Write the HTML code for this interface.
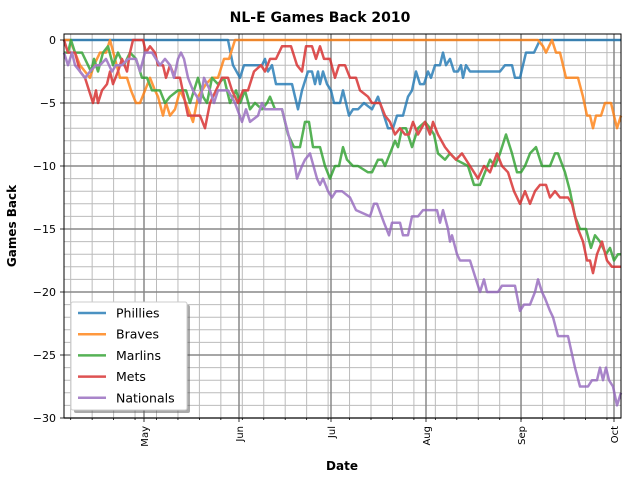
<!DOCTYPE html>
<html><head><meta charset="utf-8"><style>
body{margin:0;background:#fff;}
svg text{font-family:"DejaVu Sans","Liberation Sans",sans-serif;}
</style></head><body>
<svg id="s" width="640" height="480" xmlns="http://www.w3.org/2000/svg">
<rect width="640" height="480" fill="#fff"/>
<g id="grid"></g>
<g id="lines" fill="none" stroke-width="2.5" stroke-linejoin="round" opacity="0.8"></g>
<rect x="64" y="34" width="557" height="384" fill="none" stroke="#000" stroke-width="1"/>
<g id="ticks" font-size="10"></g>
<text x="320" y="22" font-size="14" font-weight="bold" text-anchor="middle">NL-E Games Back 2010</text>
<text x="342" y="470" font-size="12" font-weight="bold" text-anchor="middle">Date</text>
<text transform="translate(16,226) rotate(-90)" font-size="12" font-weight="bold" text-anchor="middle">Games Back</text>
<g id="legend"></g>
</svg>
<script>
const NS="http://www.w3.org/2000/svg";
function el(p,t,a,txt){const e=document.createElementNS(NS,t);for(const k in a)e.setAttribute(k,a[k]);if(txt!==undefined)e.textContent=txt;p.appendChild(e);return e;}
const Y=g=>40-g*12.6;
const grid=document.getElementById('grid'),ticks=document.getElementById('ticks');
// minor horizontal
for(let g=0;g>=-30;g--){ if(g%5) el(grid,'line',{x1:64,x2:621,y1:Y(g),y2:Y(g),stroke:'#bbb','stroke-width':1});}
// minor vertical weekly
for(let x=70.7;x<621;x+=21.45){el(grid,'line',{x1:x,x2:x,y1:34,y2:418,stroke:'#bbb','stroke-width':1});
 el(ticks,'line',{x1:x,x2:x,y1:418,y2:420,stroke:'#000','stroke-width':0.8});}
// major horizontal
for(let g=0;g>=-30;g-=5){el(grid,'line',{x1:64,x2:621,y1:Y(g),y2:Y(g),stroke:'#888','stroke-width':1.5});
 el(ticks,'line',{x1:60,x2:64,y1:Y(g),y2:Y(g),stroke:'#000','stroke-width':0.8});
 el(ticks,'text',{x:56,y:Y(g)+4,'text-anchor':'end','font-size':11},g==0?'0':'\u2212'+(-g));}
const months=[[144,'May'],[239,'Jun'],[331,'Jul'],[426,'Aug'],[521,'Sep'],[614,'Oct']];
for(const [x,m] of months){el(grid,'line',{x1:x,x2:x,y1:34,y2:418,stroke:'#888','stroke-width':1.5});
 el(ticks,'line',{x1:x,x2:x,y1:418,y2:422,stroke:'#000','stroke-width':0.8});
 el(ticks,'text',{transform:`translate(${x+4},426) rotate(-90)`,'text-anchor':'end','font-size':10},m);}
const data={
'#1f77b4':[[64,0],[228,0],[233,-2],[240,-3],[244,-2],[250,-2],[262,-2],[265,-1.5],[268,-2.5],[272,-2],[276,-3.5],[292,-3.5],[298,-5.5],[302,-4],[308,-2.5],[312,-2.5],[315,-3.5],[318,-2.5],[320,-3.5],[323,-2.5],[327,-3.5],[331,-4],[334,-5],[340,-5],[343,-4],[349,-6],[353,-5.5],[358,-5.5],[364,-5],[372,-5.5],[378,-4.5],[382,-5.5],[388,-7],[393,-7],[397,-6],[403,-6],[408,-4.5],[412,-4],[416,-2.5],[420,-3.5],[424,-3.5],[428,-2.5],[431,-3],[435,-2],[440,-2],[443,-1],[446,-2],[450,-1.5],[454,-2.5],[458,-2.5],[461,-2],[463,-3],[466,-2],[470,-2.5],[500,-2.5],[505,-2],[512,-2],[515,-3],[520,-3],[526,-1],[534,-1],[540,0],[621,0]],
'#ff7f0e':[[64,0],[70,0],[75,-1],[80,-2],[85,-2.5],[90,-3],[94,-2],[100,-1],[106,-1],[110,0],[115,-1.5],[120,-3],[127,-3],[131,-4],[136,-5],[140,-5],[145,-4],[150,-3],[155,-4],[158,-4.5],[163,-6],[166,-5],[170,-6],[175,-5.5],[180,-4],[186,-5],[193,-6.5],[198,-4.5],[202,-4],[206,-3.5],[212,-3],[218,-3],[224,-1.5],[229,-1.5],[235,0],[538,0],[543,-0.5],[546,-1],[549,-0.5],[552,0],[556,-1],[560,-1],[566,-3],[578,-3],[583,-4.5],[587,-6],[590,-6],[593,-7],[596,-6],[601,-6],[605,-5],[611,-5],[617,-7],[621,-6]],
'#2ca02c':[[64,-1],[68,-1],[71,0],[75,-1],[82,-1],[88,-2],[91,-2.5],[94,-1.5],[98,-2.5],[103,-1],[108,-0.5],[113,-2],[118,-1],[124,-2],[130,-1],[136,-1.5],[142,-3],[147,-3],[152,-4],[160,-4],[165,-5],[170,-4.5],[178,-4],[186,-4],[190,-5],[198,-3],[203,-4.5],[207,-5],[212,-3],[218,-3.5],[224,-3],[230,-5],[236,-4],[240,-5],[245,-4],[250,-5.5],[255,-5],[262,-5.5],[267,-5],[270,-4.5],[275,-5.5],[282,-5.5],[288,-7.5],[294,-8.5],[300,-8.5],[305,-6.5],[309,-6.5],[313,-8.5],[320,-8.5],[325,-10],[330,-11],[335,-10],[339,-10],[343,-8.5],[347,-9.5],[353,-10],[358,-10],[368,-10.5],[372,-10.5],[378,-9.5],[382,-9.5],[385,-10],[390,-9],[395,-8],[398,-8.5],[402,-7],[406,-7],[412,-8.5],[418,-7],[425,-6.5],[430,-7],[434,-7.5],[438,-9],[445,-9.5],[450,-9],[456,-9.5],[468,-10],[474,-11.5],[480,-11.5],[485,-10.5],[490,-9.5],[495,-10],[500,-9],[506,-7.5],[512,-9],[517,-10.5],[521,-10.5],[525,-10],[530,-9],[536,-8.5],[542,-10],[550,-10],[555,-9],[558,-9],[565,-10.5],[570,-12],[575,-14],[580,-15],[586,-15],[591,-16.5],[595,-15.5],[600,-16],[606,-17],[610,-16.5],[614,-17.5],[618,-17],[621,-17]],
'#d62728':[[64,0],[68,-1],[75,-1],[80,-2.5],[85,-3],[89,-4],[93,-5],[96,-4],[98,-5],[102,-4],[107,-3.5],[110,-2.5],[113,-3.5],[118,-2.5],[122,-1.5],[127,-2.5],[130,-1],[133,0],[143,0],[146,-1],[150,-0.5],[155,-1],[158,-2],[163,-2],[166,-3],[170,-2],[175,-3],[180,-3],[184,-4.5],[188,-6],[200,-6],[205,-7],[210,-5],[216,-4],[222,-3],[228,-3],[232,-4],[238,-5],[243,-4],[248,-4],[254,-2.5],[261,-2],[265,-2.5],[270,-1.5],[276,-1.5],[282,-0.5],[291,-0.5],[297,-2],[302,-2.5],[306,-0.5],[312,-0.5],[316,-1.5],[320,-0.5],[324,-1.5],[330,-1.5],[335,-3],[339,-2],[345,-2],[350,-3],[356,-3],[360,-4],[368,-4.5],[372,-5],[380,-5],[385,-6],[390,-6.5],[395,-7.5],[400,-7],[405,-7.5],[409,-7.5],[413,-6.5],[418,-7.5],[425,-6.5],[430,-7.5],[433,-6.5],[438,-7.5],[445,-8.5],[450,-9],[456,-9.5],[462,-9],[470,-10],[478,-11],[484,-10],[490,-10.5],[497,-9],[502,-10],[508,-10.5],[514,-12],[520,-13],[525,-12],[530,-13],[535,-12],[540,-11.5],[546,-11.5],[550,-12.5],[555,-12],[560,-12.5],[568,-12.5],[572,-13],[578,-15],[583,-16],[587,-17.5],[590,-17.5],[593,-18.5],[597,-17],[602,-16],[607,-17.5],[612,-18],[621,-18]],
'#9467bd':[[64,-1],[68,-2],[72,-1],[75,-2],[80,-2.5],[85,-3],[90,-2.5],[96,-2],[100,-2],[106,-1.5],[112,-2.5],[116,-2],[122,-2],[128,-1.5],[136,-1.5],[140,-2.5],[145,-1],[152,-1],[156,-1.5],[160,-2],[165,-1.5],[170,-2],[174,-3],[178,-1.5],[181,-1],[184,-1.5],[188,-3],[193,-4],[197,-4.5],[200,-5],[204,-3],[210,-4],[214,-5],[218,-4],[228,-4],[235,-5],[242,-6.5],[246,-5.5],[250,-6.5],[258,-6],[262,-5],[265,-5.5],[270,-5.5],[282,-5.5],[290,-8],[294,-9.5],[297,-11],[302,-10],[305,-9.5],[310,-9],[317,-11],[320,-11.5],[323,-11],[328,-12],[332,-12.5],[336,-12],[342,-12],[350,-12.5],[356,-13.5],[370,-14],[374,-13],[377,-13],[384,-14.5],[389,-15.5],[392,-14.5],[400,-14.5],[403,-15.5],[408,-15.5],[412,-14],[418,-14],[423,-13.5],[437,-13.5],[440,-14.5],[443,-13.5],[448,-15],[450,-16],[452,-15.5],[457,-17],[460,-17.5],[470,-17.5],[474,-18.5],[478,-19.5],[480,-20],[484,-19],[487,-20],[498,-20],[502,-19.5],[515,-19.5],[520,-21.5],[524,-21],[530,-21],[535,-20],[538,-19],[542,-20],[545,-20.5],[550,-21.5],[553,-22],[558,-23.5],[568,-23.5],[575,-26],[580,-27.5],[588,-27.5],[592,-27],[597,-27],[600,-26],[603,-27],[606,-26],[609,-27],[613,-27.5],[617,-29],[621,-28]]};
const lines=document.getElementById('lines');
for(const c in data){el(lines,'polyline',{stroke:c,points:data[c].map(p=>p[0]+','+Y(p[1]).toFixed(1)).join(' ')});}
const lg=document.getElementById('legend');
el(lg,'rect',{x:74,y:305,width:116,height:108,fill:'#555',opacity:0.5,rx:2});
el(lg,'rect',{x:71,y:302,width:116,height:108,fill:'#fff',stroke:'#ccc',rx:2});
const names=['Phillies','Braves','Marlins','Mets','Nationals'];
Object.keys(data).forEach((c,i)=>{const y=313+i*21.2;
 el(lg,'line',{x1:78,x2:106,y1:y,y2:y,stroke:c,'stroke-width':2.5,opacity:0.8});
 el(lg,'text',{x:116,y:y+4.5,'font-size':12.5},names[i]);});
</script>
</body></html>
